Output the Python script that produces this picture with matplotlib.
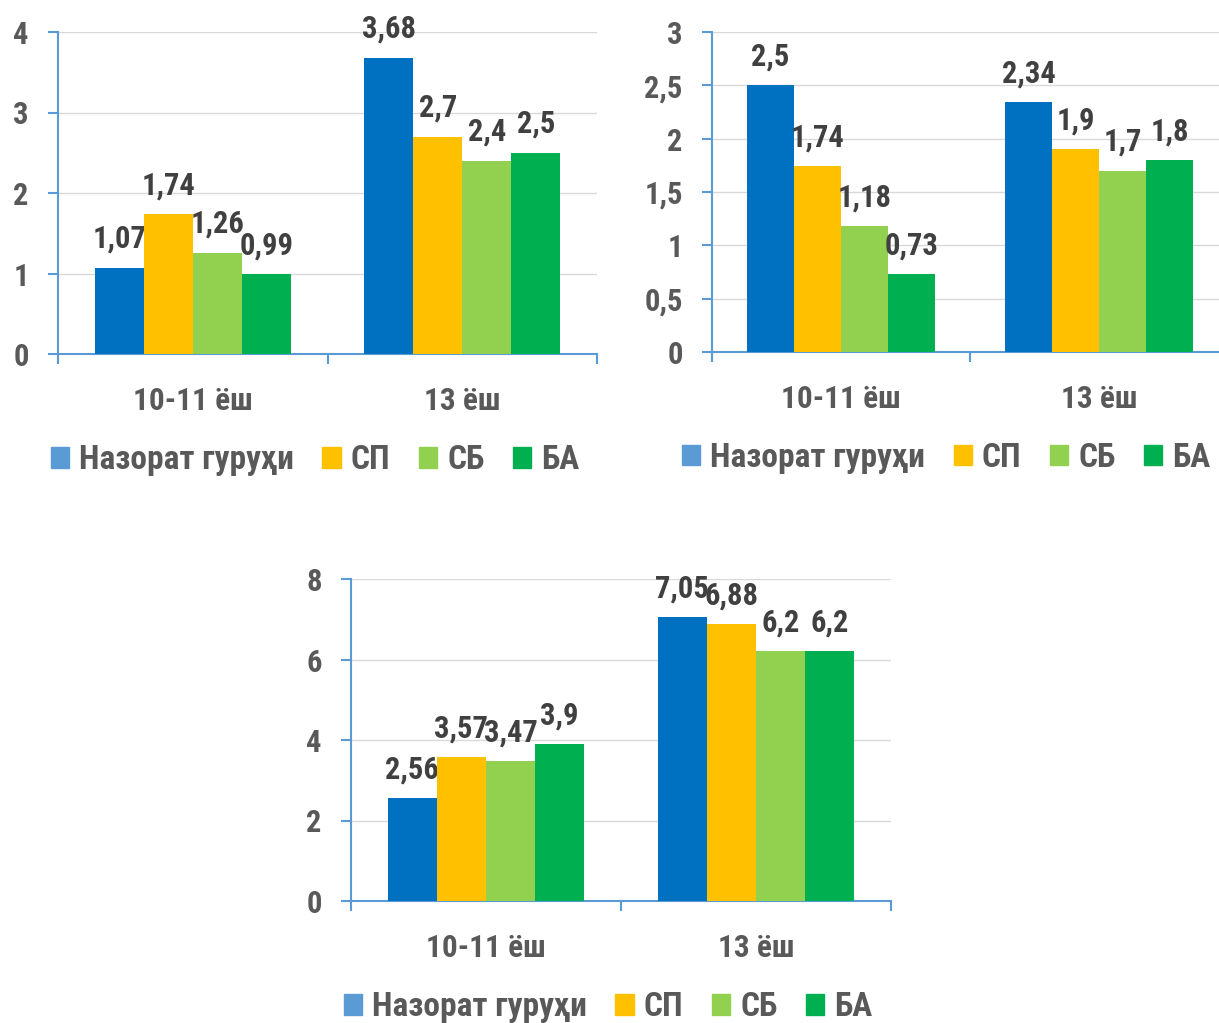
import numpy as np
import matplotlib
matplotlib.use("Agg")
import matplotlib.pyplot as plt
from matplotlib import font_manager
from matplotlib.patches import Patch
from matplotlib.ticker import FuncFormatter

# данные
categories = ['10-11 ёш', '13 ёш']
series = ['Назорат гуруҳи', 'СП', 'СБ', 'БА']

chart1_vals = [[1.07, 3.68], [1.74, 2.7], [1.26, 2.4], [0.99, 2.5]]
chart2_vals = [[2.5, 2.34], [1.74, 1.9], [1.18, 1.7], [0.73, 1.8]]
chart3_vals = [[2.56, 7.05], [3.57, 6.88], [3.47, 6.2], [3.9, 6.2]]

chart1_ticks = [0, 1, 2, 3, 4]
chart2_ticks = [0, 0.5, 1, 1.5, 2, 2.5, 3]
chart3_ticks = [0, 2, 4, 6, 8]

bar_colors = ['#0070C0', '#FFC000', '#92D050', '#00B050']
legend_colors = ['#5B9BD5', '#FFC000', '#92D050', '#00B050']
axis_color = '#5B9BD5'
text_color = '#595959'
label_color = '#404040'

# узкий шрифт, если есть
have = {f.name for f in font_manager.fontManager.ttflist}
narrow = [n for n in ['Liberation Sans Narrow', 'Arial Narrow', 'Roboto Condensed',
                      'PT Sans Narrow', 'Archivo Narrow', 'Fira Sans Condensed',
                      'IBM Plex Sans Condensed', 'Open Sans Condensed',
                      'Sofia Sans Condensed'] if n in have]
plt.rcParams['font.family'] = narrow[:1] + ['DejaVu Sans']
plt.rcParams['font.weight'] = 'bold'

W, H = 1219, 1023
fig = plt.figure(figsize=(W / 100, H / 100), dpi=100)


def fmt(v):
    return f"{v:g}".replace('.', ',')


def draw(rect_px, vals, yticks, leg_x):
    x0, y_top, x1, y_bot = rect_px
    ax = fig.add_axes([x0 / W, 1 - y_bot / H, (x1 - x0) / W, (y_bot - y_top) / H])
    x = np.arange(len(categories))
    width = 0.182
    for i, v in enumerate(vals):
        bars = ax.bar(x + (i - 1.5) * width, v, width, color=bar_colors[i], zorder=3)
        ax.bar_label(bars, labels=[fmt(t) for t in v], padding=10,
                     fontsize=22, color=label_color, fontweight='bold')
    ax.set_xlim(-0.5, len(categories) - 0.5)
    ax.set_ylim(yticks[0], yticks[-1])
    ax.set_yticks(yticks)
    ax.yaxis.set_major_formatter(FuncFormatter(lambda v, p: fmt(v)))
    ax.set_xticks(np.arange(len(categories) + 1) - 0.5)
    ax.set_xticklabels([])
    ax.set_xticks(x, minor=True)
    ax.set_xticklabels(categories, minor=True)
    ax.tick_params(axis='x', which='minor', length=0, pad=23, labelsize=22.5,
                   labelcolor=text_color)
    ax.tick_params(axis='x', which='major', length=7, width=1.5, color=axis_color,
                   direction='out')
    ax.tick_params(axis='y', length=7, width=1.5, color=axis_color, labelsize=22,
                   labelcolor=text_color, pad=14)
    ax.grid(axis='y', color='#D9D9D9', lw=1, zorder=0)
    for s in ['top', 'right']:
        ax.spines[s].set_visible(False)
    for s in ['left', 'bottom']:
        ax.spines[s].set_color(axis_color)
        ax.spines[s].set_linewidth(1.5)
    handles = [Patch(color=c) for c in legend_colors]
    ax.legend(handles, series, loc='center', bbox_to_anchor=(leg_x, -0.33), ncol=4,
              frameon=False, fontsize=24, labelcolor=text_color,
              handlelength=0.55, handleheight=0.55, handletextpad=0.3,
              columnspacing=0.85)
    return ax


draw((58, 32, 597, 354), chart1_vals, chart1_ticks, 0.477)
draw((712, 32, 1228, 352), chart2_vals, chart2_ticks, 0.454)
draw((351, 579, 891, 901), chart3_vals, chart3_ticks, 0.476)

fig.savefig('out.png', dpi=100)
